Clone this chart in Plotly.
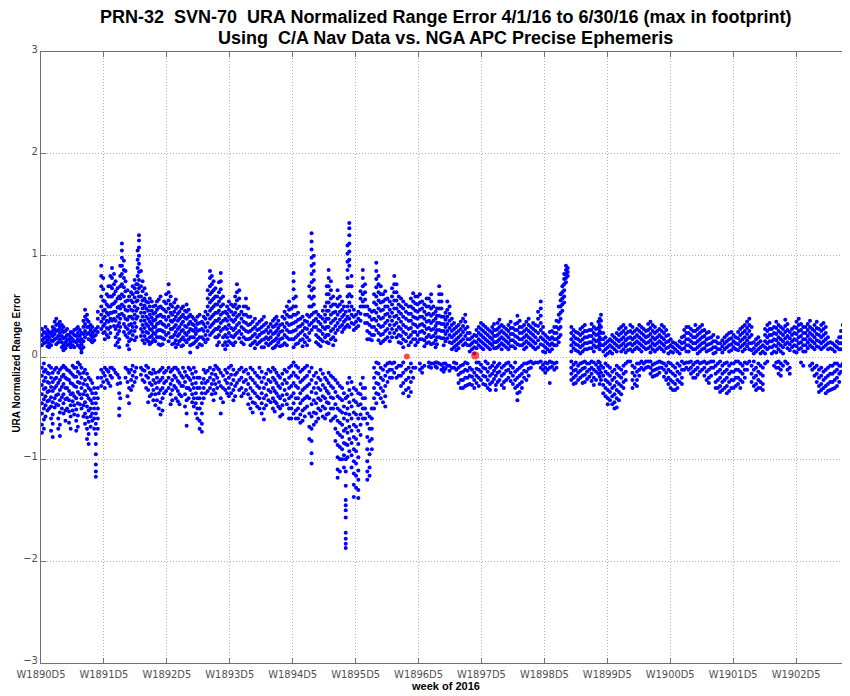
import plotly.graph_objects as go

# ---- data (x in days since W1890D5 = 4/1/16, y = URA normalized range error) ----
week_labels = ["W1890D5", "W1891D5", "W1892D5", "W1893D5", "W1894D5", "W1895D5", "W1896D5",
               "W1897D5", "W1898D5", "W1899D5", "W1900D5", "W1901D5", "W1902D5"]
week_days = [0, 7, 14, 21, 28, 35, 42, 49, 56, 63, 70, 77, 84]

# first set of vertical streaks (one streak = one time, several error samples)
streak_day = [
    0.1, 0.5, 0.9, 1.3, 1.7, 2.1, 2.5, 2.9, 3.3, 3.7, 4.1, 4.5, 4.9, 5.3, 5.7, 6.1,
    6.7, 7.1, 7.5, 7.9, 8.3, 8.7, 9.0, 9.4, 9.8, 10.2, 10.6, 10.9, 11.3, 11.7, 12.1, 12.5, 12.9,
    13.3, 13.7, 14.2, 14.6, 15.0, 15.4, 15.8, 16.2, 16.6, 17.0, 17.4, 17.9, 18.3, 18.8, 19.2, 19.6,
    20.0, 20.5, 20.9, 21.4, 21.8, 22.3, 22.8, 23.3, 23.8, 24.3, 24.8, 25.3, 25.8, 26.2, 26.6, 27.1, 27.6,
    28.1, 28.6, 29.1, 29.6, 30.1, 30.6, 31.1, 31.6, 32.0, 32.5, 33.0, 33.5, 33.9, 34.3, 34.8, 35.3,
    35.8, 36.3, 36.8, 37.3, 37.8, 38.3, 38.8, 39.3, 39.8, 40.3, 40.9, 41.4, 41.9, 42.4, 42.9,
    43.4, 43.9, 44.3, 44.8, 45.2, 45.7, 46.2, 46.7, 47.2, 47.7, 48.2, 48.7, 49.2, 49.7, 50.2, 50.6,
    51.0, 51.5, 52.0, 52.5, 53.0, 53.5, 54.0, 54.5, 55.0, 55.6, 56.1, 56.6, 57.1, 57.6, 58.0, 58.4,
    59.0, 59.5, 60.0, 60.5, 61.0, 61.5, 62.0, 62.3, 62.8, 63.3, 63.8, 64.3, 64.8, 65.3, 65.8, 66.3,
    66.8, 67.3, 67.8, 68.3, 68.8, 69.3, 69.8, 70.3, 70.8, 71.3, 71.8, 72.3, 72.8, 73.3, 73.8,
    74.3, 74.8, 75.3, 75.8, 76.3, 76.8, 77.3, 77.8, 78.3, 78.8, 79.3, 79.8, 80.3, 80.8, 81.3, 81.8,
    82.3, 82.8, 83.3, 83.8, 84.3, 84.8, 85.3, 85.8, 86.3, 86.8, 87.3, 87.8, 88.3, 88.8, 89.2, 89.6, 89.9,
]

streak_err = [
    # W1890
    [0.28, 0.22, 0.17, 0.12, -0.1, -0.18, -0.27, -0.36, -0.45, -0.55, -0.66, -0.74],
    [0.3, 0.24, 0.2, 0.15, -0.12, -0.2, -0.3, -0.38, -0.47, -0.58],
    [0.25, 0.2, 0.14, 0.1, -0.08, -0.16, -0.25, -0.33, -0.42, -0.5],
    [0.3, 0.26, 0.21, 0.16, -0.15, -0.24, -0.33, -0.44, -0.56, -0.65, -0.78],
    [0.38, 0.32, 0.26, 0.19, 0.13, -0.1, -0.2, -0.28, -0.37, -0.46],
    [0.35, 0.3, 0.24, 0.18, -0.12, -0.22, -0.32, -0.42, -0.54, -0.66, -0.77],
    [0.3, 0.25, 0.19, 0.12, 0.07, -0.08, -0.17, -0.26, -0.36, -0.45, -0.55],
    [0.28, 0.22, 0.17, 0.12, -0.12, -0.21, -0.3, -0.4, -0.5],
    [0.25, 0.2, 0.15, 0.1, -0.15, -0.25, -0.36, -0.47, -0.58, -0.7],
    [0.27, 0.22, 0.16, 0.1, -0.1, -0.19, -0.28, -0.38, -0.47, -0.56],
    [0.3, 0.24, 0.18, 0.12, -0.05, -0.14, -0.24, -0.34, -0.45, -0.57, -0.68],
    [0.24, 0.18, 0.13, 0.08, 0.05, -0.1, -0.2, -0.3, -0.4, -0.5],
    [0.47, 0.4, 0.33, 0.26, 0.2, -0.12, -0.22, -0.33, -0.44, -0.55, -0.65],
    [0.35, 0.3, 0.24, 0.18, -0.2, -0.3, -0.4, -0.52, -0.63, -0.75, -0.85],
    [0.3, 0.24, 0.2, 0.15, -0.25, -0.35, -0.45, -0.55, -0.62],
    [0.28, 0.22, -0.35, -0.45, -0.55, -0.65, -0.75, -0.85, -0.95, -1.05, -1.12, -1.17],
    # W1891
    [0.9, 0.8, 0.7, 0.6, 0.5, 0.42, 0.35, 0.28, -0.12, -0.2, -0.28],
    [0.55, 0.47, 0.4, 0.33, 0.25, 0.18, -0.1, -0.18, -0.3],
    [0.7, 0.6, 0.5, 0.42, 0.35, 0.28, 0.2, -0.14, -0.25],
    [0.88, 0.78, 0.68, 0.6, 0.52, 0.44, 0.36, -0.1, -0.2],
    [0.75, 0.65, 0.55, 0.45, 0.36, 0.28, 0.2, 0.12, -0.15],
    [0.6, 0.5, 0.42, 0.34, 0.26, 0.18, 0.1, -0.2, -0.35, -0.5, -0.57],
    [1.12, 1.05, 0.98, 0.9, 0.82, 0.72, 0.62, 0.52, 0.43],
    [0.85, 0.75, 0.65, 0.55, 0.47, 0.38, 0.3, 0.22, -0.1, -0.2],
    [0.6, 0.5, 0.4, 0.32, 0.24, 0.16, 0.08, -0.15, -0.3, -0.45],
    [0.7, 0.62, 0.54, 0.46, 0.38, 0.3, 0.22, -0.08, -0.18, -0.28],
    [0.72, 0.64, 0.55, 0.46, 0.38, 0.3, 0.2, -0.1, -0.2],
    [1.2, 1.15, 1.08, 1.0, 0.92, 0.84, 0.76, 0.68, 0.6],
    [0.75, 0.65, 0.56, 0.48, 0.4, 0.32, 0.25, 0.17, -0.12, -0.22],
    [0.62, 0.55, 0.48, 0.4, 0.33, 0.25, 0.18, -0.08, -0.18, -0.3],
    [0.58, 0.5, 0.42, 0.35, 0.28, 0.2, 0.13, -0.15, -0.25, -0.38],
    [0.5, 0.43, 0.36, 0.3, 0.24, 0.18, -0.12, -0.22, -0.32, -0.42],
    [0.55, 0.47, 0.4, 0.33, 0.26, 0.2, -0.2, -0.3, -0.42],
    # W1892 - W1893
    [0.6, 0.5, 0.42, 0.35, 0.27, 0.2, 0.12, -0.12, -0.22, -0.32, -0.44, -0.56],
    [0.55, 0.47, 0.4, 0.32, 0.25, 0.18, -0.15, -0.25, -0.35],
    [0.72, 0.64, 0.56, 0.48, 0.4, 0.32, 0.24, 0.16, -0.1, -0.2, -0.3],
    [0.5, 0.42, 0.35, 0.28, 0.2, 0.13, -0.12, -0.22, -0.32, -0.42],
    [0.57, 0.48, 0.4, 0.32, 0.25, 0.17, 0.1, -0.1, -0.2, -0.3, -0.4],
    [0.45, 0.38, 0.3, 0.23, 0.16, -0.15, -0.25, -0.36, -0.46],
    [0.5, 0.42, 0.35, 0.27, 0.2, 0.12, -0.1, -0.2, -0.28],
    [0.52, 0.45, 0.38, 0.3, 0.22, 0.15, -0.18, -0.3, -0.42, -0.55, -0.67],
    [0.42, 0.35, 0.28, 0.2, 0.12, 0.05, -0.12, -0.22, -0.32],
    [0.38, 0.32, 0.26, 0.2, 0.14, -0.1, -0.2, -0.3, -0.4, -0.48],
    [0.4, 0.33, 0.26, 0.18, 0.1, -0.2, -0.3, -0.4, -0.5, -0.6],
    [0.35, 0.28, 0.2, 0.12, -0.25, -0.35, -0.45, -0.55, -0.65, -0.73],
    [0.45, 0.38, 0.3, 0.22, 0.15, -0.15, -0.25, -0.35],
    [0.85, 0.78, 0.7, 0.62, 0.54, 0.46, 0.38, 0.3, 0.22, -0.1, -0.2, -0.3],
    [0.75, 0.66, 0.58, 0.5, 0.42, 0.34, 0.26, -0.12, -0.22, -0.32, -0.42],
    [0.6, 0.52, 0.44, 0.36, 0.28, 0.2, 0.12, -0.1, -0.2, -0.3],
    [0.83, 0.75, 0.67, 0.58, 0.5, 0.42, 0.34, 0.26, -0.15, -0.28, -0.4, -0.55],
    [0.45, 0.38, 0.3, 0.22, 0.15, 0.08, -0.12, -0.22, -0.32],
    [0.55, 0.47, 0.4, 0.32, 0.24, 0.16, -0.1, -0.2, -0.3, -0.38],
    [0.5, 0.42, 0.35, 0.27, 0.2, 0.12, -0.12, -0.22, -0.32, -0.42],
    [0.72, 0.64, 0.56, 0.48, 0.4, 0.32, 0.24, -0.15, -0.25],
    [0.45, 0.38, 0.3, 0.23, 0.15, -0.1, -0.2, -0.3, -0.38],
    [0.58, 0.5, 0.42, 0.34, 0.26, 0.18, -0.12, -0.22, -0.32],
    [0.4, 0.33, 0.26, 0.19, 0.12, -0.1, -0.2, -0.3, -0.4, -0.5],
    [0.38, 0.3, 0.23, 0.16, 0.09, -0.15, -0.25, -0.35, -0.45],
    [0.35, 0.28, 0.22, 0.15, -0.1, -0.2, -0.3, -0.4, -0.5],
    [0.4, 0.32, 0.25, 0.18, 0.1, -0.2, -0.3, -0.4, -0.5, -0.61],
    [0.3, 0.24, 0.18, 0.12, -0.12, -0.22, -0.32, -0.42],
    [0.36, 0.3, 0.23, 0.16, 0.09, -0.1, -0.2, -0.3, -0.4, -0.5],
    [0.4, 0.33, 0.26, 0.19, 0.12, -0.15, -0.25, -0.35, -0.45],
    [0.32, 0.25, 0.18, 0.11, -0.2, -0.3, -0.4, -0.5, -0.58],
    [0.45, 0.38, 0.3, 0.22, 0.14, -0.12, -0.22, -0.32, -0.42],
    [0.55, 0.47, 0.4, 0.32, 0.25, 0.18, -0.1, -0.2, -0.3, -0.4, -0.5, -0.6],
    # W1894 - W1895
    [0.83, 0.75, 0.67, 0.58, 0.5, 0.42, 0.34, 0.26, 0.18, 0.1, -0.05, -0.15, -0.25, -0.35, -0.45, -0.55],
    [0.44, 0.37, 0.3, 0.22, 0.14, -0.1, -0.2, -0.3, -0.4, -0.5, -0.6],
    [0.4, 0.33, 0.26, 0.18, 0.11, -0.12, -0.22, -0.32, -0.42, -0.52, -0.62],
    [0.42, 0.35, 0.28, 0.2, 0.12, -0.08, -0.18, -0.28, -0.38, -0.48],
    [1.22, 1.14, 1.06, 0.98, 0.9, 0.82, 0.74, 0.66, 0.58, 0.5, 0.42, 0.34, 0.27,
     -0.1, -0.22, -0.34, -0.46, -0.58, -0.7, -0.82, -0.94, -1.04],
    [0.45, 0.38, 0.3, 0.22, 0.15, -0.15, -0.25, -0.35, -0.45, -0.55, -0.63],
    [0.4, 0.33, 0.26, 0.18, 0.11, -0.12, -0.22, -0.32, -0.42, -0.52],
    [0.5, 0.42, 0.35, 0.28, 0.2, -0.2, -0.3, -0.4, -0.5, -0.6],
    [0.86, 0.78, 0.7, 0.62, 0.54, 0.46, 0.38, 0.3, 0.22, 0.14, -0.15, -0.25, -0.35, -0.45, -0.55],
    [0.6, 0.52, 0.44, 0.36, 0.28, 0.2, 0.12, -0.2, -0.3, -0.4, -0.5, -0.6],
    [0.66, 0.58, 0.5, 0.42, 0.34, 0.27, -0.25, -0.38, -0.5, -0.62, -0.74, -0.86, -0.98, -1.1, -1.18],
    [0.55, 0.47, 0.4, 0.32, 0.25, -0.3, -0.42, -0.54, -0.66, -0.78, -0.9, -1.0],
    [0.45, 0.37, 0.3, -0.4, -0.55, -0.7, -0.85, -1.0, -1.12, -1.26, -1.4, -1.45, -1.5, -1.57,
     -1.72, -1.78, -1.83, -1.87],
    [1.32, 1.27, 1.2, 1.12, 1.04, 0.96, 0.9, 0.7, 0.62, 0.54, 0.46, 0.38, 0.3,
     -0.2, -0.32, -0.44, -0.56, -0.68, -0.8, -0.92],
    [0.47, 0.4, 0.33, 0.27, -0.3, -0.42, -0.54, -0.66, -0.78, -0.9, -1.02, -1.14, -1.25, -1.37],
    [0.45, 0.38, 0.31, -0.35, -0.47, -0.6, -0.72, -0.85, -0.98, -1.11, -1.2, -1.3, -1.38],
    [0.86, 0.78, 0.7, 0.62, 0.55, 0.5, -0.2, -0.3, -0.4, -0.5, -0.6],
    [0.5, 0.42, 0.34, 0.26, 0.18, -0.55, -0.65, -0.78, -0.9, -1.02, -1.12, -1.2],
    [0.45, 0.37, 0.3, 0.22, 0.17, -0.5, -0.6, -0.7, -0.8, -0.9],
    [0.93, 0.85, 0.77, 0.69, 0.6, 0.52, 0.44, 0.36, 0.27, -0.05, -0.15, -0.25, -0.35, -0.45],
    [0.7, 0.62, 0.54, 0.46, 0.38, 0.3, 0.22, 0.14, -0.1, -0.2, -0.3, -0.4],
    [0.65, 0.57, 0.5, 0.42, 0.34, 0.26, 0.18, -0.08, -0.18, -0.28, -0.38, -0.48],
    [0.55, 0.47, 0.4, 0.32, 0.24, 0.16, -0.05, -0.12, -0.2],
    [0.8, 0.72, 0.64, 0.56, 0.48, 0.4, 0.32, 0.24, -0.05, -0.15],
    [0.6, 0.52, 0.45, 0.38, 0.3, 0.22, 0.15, -0.08, -0.18],
    [0.55, 0.48, 0.4, 0.32, 0.25, 0.18, 0.1, -0.05, -0.15, -0.25, -0.35],
    [0.5, 0.43, 0.36, 0.28, 0.2, 0.12, -0.1, -0.2, -0.3, -0.38],
    [0.63, 0.55, 0.48, 0.4, 0.33, 0.25, 0.18, -0.1, -0.2],
    [0.6, 0.52, 0.45, 0.38, 0.3, 0.22, 0.15],
    [0.55, 0.48, 0.4, 0.33, 0.26, 0.18, -0.1, -0.15],
    [0.58, 0.5, 0.42, 0.35, 0.28, 0.2, 0.14],
    # W1896 - W1897
    [0.62, 0.55, 0.48, 0.41, 0.34, 0.27, 0.2, 0.13, -0.06, -0.1],
    [0.45, 0.38, 0.31, 0.24, 0.17, 0.1, -0.05, -0.09],
    [0.7, 0.62, 0.55, 0.48, 0.41, 0.34, 0.27, 0.2, -0.06],
    [0.4, 0.33, 0.26, 0.19, 0.12, -0.06, -0.1, -0.14],
    [0.55, 0.47, 0.4, 0.33, 0.26, 0.19, -0.08],
    [0.38, 0.32, 0.26, 0.2, 0.14, 0.08, -0.1],
    [0.3, 0.24, 0.18, 0.12, 0.07, -0.06, -0.12],
    [0.35, 0.28, 0.22, 0.16, -0.08, -0.15, -0.22, -0.3],
    [0.42, 0.35, 0.28, 0.21, 0.14, -0.05, -0.12, -0.2, -0.28],
    [0.24, 0.18, 0.12, 0.06, -0.1, -0.18, -0.26],
    [0.22, 0.16, 0.1, 0.04, -0.15, -0.22, -0.3],
    [0.3, 0.24, 0.18, 0.12, -0.05, -0.12, -0.2, -0.28],
    [0.32, 0.26, 0.2, 0.14, 0.08, -0.1, -0.18, -0.26],
    [0.28, 0.22, 0.16, 0.1, -0.06, -0.14, -0.22, -0.3],
    [0.3, 0.24, 0.18, 0.12, -0.08, -0.16, -0.24],
    [0.27, 0.21, 0.15, 0.09, -0.1, -0.18, -0.27, -0.32],
    [0.37, 0.3, 0.24, 0.18, 0.12, -0.06, -0.14, -0.22],
    [0.3, 0.24, 0.18, 0.12, -0.08, -0.16, -0.24, -0.3],
    [0.32, 0.26, 0.2, 0.14, 0.08, -0.05, -0.12, -0.2],
    [0.29, 0.23, 0.17, 0.11, -0.1, -0.18, -0.26],
    [0.41, 0.34, 0.27, 0.2, 0.13, -0.12, -0.2, -0.28, -0.35, -0.42],
    [0.3, 0.24, 0.18, 0.12, -0.08, -0.16, -0.24, -0.3],
    [0.35, 0.28, 0.22, 0.16, 0.1, -0.06, -0.14, -0.22],
    [0.3, 0.24, 0.18, 0.12, -0.04, -0.1],
    [0.32, 0.26, 0.2, 0.14, 0.08, -0.05],
    [0.55, 0.48, 0.41, 0.34, 0.27, 0.2, 0.13, -0.04, -0.1],
    [0.22, 0.16, 0.1, 0.05, -0.05, -0.1, -0.15],
    [0.25, 0.18, 0.12, 0.06, -0.04, -0.1, -0.25],
    [0.3, 0.24, 0.18, 0.12, -0.06, -0.12],
    [0.5, 0.42, 0.35, 0.28, 0.2, 0.15],
    [0.7, 0.64, 0.58, 0.52, 0.46],
    [0.9, 0.86, 0.82, 0.78, 0.74],
    # W1898 - W1900
    [0.3, 0.24, 0.18, 0.12, 0.06, -0.04, -0.1, -0.16, -0.22],
    [0.25, 0.19, 0.13, 0.07, -0.05, -0.12, -0.18, -0.25],
    [0.28, 0.22, 0.16, 0.1, 0.04, -0.06, -0.13, -0.2],
    [0.32, 0.26, 0.2, 0.14, 0.08, -0.04, -0.1, -0.17, -0.24],
    [0.27, 0.21, 0.15, 0.09, -0.06, -0.12, -0.19],
    [0.3, 0.24, 0.18, 0.12, 0.06, -0.05, -0.12, -0.2, -0.27],
    [0.35, 0.29, 0.23, 0.17, 0.11, -0.04, -0.1, -0.16],
    [0.42, 0.36, 0.3, 0.24, 0.18, 0.12, -0.08, -0.15, -0.22],
    [0.2, 0.14, 0.08, 0.02, -0.06, -0.14, -0.22, -0.3, -0.38],
    [0.18, 0.12, 0.06, -0.1, -0.18, -0.26, -0.34, -0.42],
    [0.2, 0.14, 0.08, -0.12, -0.2, -0.28, -0.36, -0.44, -0.5],
    [0.28, 0.22, 0.16, 0.1, -0.1, -0.18, -0.26, -0.34, -0.42],
    [0.32, 0.26, 0.2, 0.14, 0.08, -0.08, -0.16, -0.24, -0.3],
    [0.25, 0.19, 0.13, 0.07, -0.04],
    [0.3, 0.24, 0.18, 0.12, 0.06, -0.08, -0.15, -0.22, -0.3],
    [0.28, 0.22, 0.16, 0.1, -0.06, -0.14, -0.22, -0.28],
    [0.3, 0.24, 0.18, 0.12, 0.06, -0.04, -0.1],
    [0.26, 0.2, 0.14, 0.08, -0.04, -0.1],
    [0.35, 0.29, 0.23, 0.17, 0.11, 0.05, -0.04, -0.1, -0.16],
    [0.3, 0.24, 0.18, 0.12, 0.06, -0.06, -0.12, -0.18],
    [0.28, 0.22, 0.16, 0.1, -0.04, -0.1, -0.15],
    [0.3, 0.24, 0.18, 0.12, 0.06, -0.06, -0.12, -0.19],
    [0.22, 0.16, 0.1, 0.04, -0.05, -0.12, -0.2, -0.26],
    [0.15, 0.1, 0.05, -0.08, -0.16, -0.24, -0.32],
    [0.12, 0.06, -0.06, -0.14, -0.22, -0.3],
    [0.2, 0.14, 0.08, -0.04, -0.12, -0.2, -0.26],
    [0.3, 0.24, 0.18, 0.12, 0.06, -0.05, -0.1],
    [0.28, 0.22, 0.16, 0.1, -0.04, -0.1, -0.16],
    [0.32, 0.26, 0.2, 0.14, 0.08, -0.05, -0.12, -0.2],
    [0.3, 0.24, 0.18, 0.12, 0.06, -0.06, -0.14],
    [0.27, 0.21, 0.15, 0.09, -0.04, -0.1, -0.18],
    # W1901 - W1902
    [0.25, 0.19, 0.13, 0.07, -0.05, -0.12, -0.2, -0.25],
    [0.22, 0.16, 0.1, 0.04, -0.04, -0.1],
    [0.2, 0.14, 0.08, -0.06, -0.14, -0.22, -0.3],
    [0.17, 0.11, 0.05, -0.08, -0.16, -0.24, -0.32],
    [0.22, 0.16, 0.1, -0.05, -0.12, -0.2, -0.28, -0.35],
    [0.25, 0.19, 0.13, 0.07, -0.06, -0.14, -0.22, -0.3],
    [0.2, 0.14, 0.08, -0.04, -0.12, -0.2, -0.28],
    [0.28, 0.22, 0.16, 0.1, -0.06, -0.14, -0.22, -0.3],
    [0.32, 0.26, 0.2, 0.14, 0.08, -0.05, -0.12, -0.2],
    [0.38, 0.32, 0.26, 0.2, 0.14, 0.08, -0.04],
    [0.15, 0.09, 0.04, -0.04, -0.12, -0.2, -0.28],
    [0.2, 0.14, 0.08, -0.06, -0.14, -0.22, -0.3],
    [0.12, 0.06, -0.1, -0.18, -0.26, -0.32],
    [0.32, 0.26, 0.2, 0.14, 0.08, -0.04],
    [0.28, 0.22, 0.16, 0.1, 0.04],
    [0.35, 0.29, 0.23, 0.17, 0.11, 0.05, -0.05, -0.1],
    [0.3, 0.24, 0.18, 0.12, 0.06, -0.06, -0.12, -0.18],
    [0.37, 0.31, 0.25, 0.19, 0.13, -0.04],
    [0.25, 0.19, 0.13, 0.07, -0.1, -0.16],
    [0.3, 0.24, 0.18, 0.12, 0.06],
    [0.38, 0.32, 0.26, 0.2, 0.14, 0.08],
    [0.3, 0.24, 0.18, 0.12, 0.06, -0.08],
    [0.33, 0.27, 0.21, 0.15, 0.09],
    [0.28, 0.22, 0.16, 0.1, -0.06, -0.12],
    [0.35, 0.29, 0.23, 0.17, 0.11, -0.08, -0.16, -0.24],
    [0.32, 0.26, 0.2, 0.14, 0.08, -0.1, -0.18, -0.26, -0.32],
    [0.3, 0.24, 0.18, 0.12, -0.12, -0.2, -0.28, -0.35],
    [0.15, 0.09, -0.08, -0.16, -0.24, -0.32],
    [0.12, 0.06, -0.06, -0.14, -0.22, -0.3],
    [0.2, 0.14, 0.08, -0.08, -0.16, -0.24],
    [0.32, 0.26, 0.2, 0.14, -0.06],
    [0.45, 0.4, 0.35, 0.3],
    [0.53, 0.48, 0.43, 0.38],
]

# second set of streaks, between the first ones
streak_day_b = [
    0.32, 0.72, 1.12, 1.52, 1.92, 2.32, 2.72, 3.12, 3.52, 3.92, 4.32, 4.72, 5.12, 5.52, 5.92, 6.32,
    6.92, 7.32, 7.72, 8.12, 8.52, 8.82, 9.22, 9.62, 10.02, 10.42, 10.75, 11.12, 11.52, 11.92, 12.32, 12.72, 13.1,
    13.52, 13.92, 14.42, 14.82, 15.22, 15.62, 16.02, 16.42, 16.82, 17.22, 17.65, 18.1, 18.55, 19.0, 19.4, 19.8,
    20.25, 20.7, 21.15, 21.6, 22.05, 22.55, 23.05, 23.55, 24.05, 24.55, 25.05, 25.55, 26.0, 26.4, 26.85, 27.35, 27.85,
    28.35, 28.85, 29.35, 29.85, 30.35, 30.85, 31.35, 31.8, 32.25, 32.75, 33.25, 33.7, 34.1, 34.55, 35.05,
    35.55, 36.05, 36.55, 37.05, 37.55, 38.05, 38.55, 39.05, 39.55, 40.05, 40.6, 41.15, 41.65, 42.15, 42.65,
    43.15, 43.65, 44.05, 44.55, 45.0, 45.45, 45.95, 46.45, 46.95, 47.45, 47.95, 48.45, 48.95, 49.45, 49.95,
    50.4, 50.8, 51.25, 51.75, 52.25, 52.75, 53.25, 53.75, 54.25, 54.75, 55.3, 55.85, 56.35, 56.85, 57.35,
    57.8, 58.2, 58.6,
    59.25, 59.75, 60.25, 60.75, 61.25, 61.75, 62.15, 62.55, 63.05, 63.55, 64.05, 64.55, 65.05, 65.55,
    66.05, 66.55, 67.05, 67.55, 68.05, 68.55, 69.05, 69.55, 70.05, 70.55, 71.05, 71.55, 72.05, 72.55,
    73.05, 73.55, 74.05,
    74.55, 75.05, 75.55, 76.05, 76.55, 77.05, 77.55, 78.05, 78.55, 79.05, 79.55, 80.05, 80.55, 81.05,
    81.55, 82.05, 82.55, 83.05, 83.55, 84.05, 84.55, 85.05, 85.55, 86.05, 86.55, 87.05, 87.55, 88.05,
    88.55, 89.0, 89.4, 89.75,
]

streak_err_b = [
    # W1890
    [0.25, 0.19, 0.14, -0.06, -0.14, -0.23, -0.31, -0.41, -0.5, -0.61, -0.7],
    [0.27, 0.22, 0.17, 0.11, -0.15, -0.24, -0.34, -0.43, -0.52],
    [0.23, 0.17, 0.12, -0.1, -0.2, -0.29, -0.39, -0.48, -0.6, -0.72],
    [0.35, 0.28, 0.23, 0.18, -0.12, -0.21, -0.3, -0.4, -0.49],
    [0.33, 0.27, 0.21, 0.15, -0.15, -0.25, -0.36, -0.47, -0.6, -0.7],
    [0.32, 0.27, 0.21, 0.15, 0.1, -0.1, -0.19, -0.29, -0.39, -0.5],
    [0.26, 0.2, 0.15, 0.09, -0.1, -0.2, -0.3, -0.41, -0.52, -0.62],
    [0.22, 0.18, 0.13, -0.13, -0.22, -0.33, -0.42, -0.53, -0.64],
    [0.24, 0.18, 0.12, -0.08, -0.17, -0.26, -0.35, -0.43, -0.52],
    [0.28, 0.21, 0.15, -0.1, -0.19, -0.29, -0.4, -0.51, -0.62, -0.72],
    [0.27, 0.21, 0.16, 0.1, -0.07, -0.16, -0.25, -0.36, -0.46],
    [0.36, 0.3, 0.23, 0.16, 0.1, -0.15, -0.26, -0.36, -0.47, -0.58],
    [0.42, 0.37, 0.3, 0.23, -0.16, -0.27, -0.37, -0.48, -0.59, -0.7, -0.8],
    [0.32, 0.27, 0.22, 0.17, -0.22, -0.32, -0.42, -0.5, -0.58, -0.68],
    [0.26, 0.21, 0.17, -0.3, -0.4, -0.5, -0.6, -0.7],
    [0.45, 0.38, 0.3, 0.25, -0.2, -0.3, -0.4, -0.5, -0.6, -0.7],
    # W1891
    [0.78, 0.67, 0.56, 0.46, 0.38, 0.31, 0.24, -0.15, -0.24],
    [0.62, 0.52, 0.44, 0.36, 0.29, 0.22, -0.12, -0.22],
    [0.8, 0.7, 0.6, 0.5, 0.44, 0.38, 0.3, 0.24, -0.1, -0.18, -0.28],
    [0.82, 0.72, 0.62, 0.53, 0.45, 0.38, 0.31, -0.12],
    [0.68, 0.58, 0.49, 0.4, 0.31, 0.23, 0.15, -0.17, -0.26],
    [0.9, 0.8, 0.7, 0.58, 0.48, 0.38, 0.3, -0.25, -0.4],
    [0.95, 0.86, 0.78, 0.69, 0.6, 0.5, 0.41, 0.33, 0.25],
    [0.66, 0.56, 0.46, 0.37, 0.28, 0.2, 0.12, -0.12, -0.24, -0.38],
    [0.64, 0.56, 0.47, 0.4, 0.33, 0.26, 0.18, -0.12, -0.22, -0.32],
    [0.76, 0.68, 0.59, 0.5, 0.42, 0.34, 0.26, 0.17, -0.14, -0.24],
    [1.05, 0.96, 0.88, 0.8, 0.72, 0.64, 0.56, 0.48, 0.4],
    [0.85, 0.7, 0.6, 0.52, 0.44, 0.36, 0.28, 0.21, -0.1, -0.17],
    [0.68, 0.58, 0.51, 0.44, 0.36, 0.29, 0.21, 0.14, -0.13, -0.24],
    [0.54, 0.46, 0.38, 0.31, 0.24, 0.16, -0.1, -0.2, -0.32, -0.44],
    [0.55, 0.46, 0.39, 0.33, 0.27, 0.21, 0.15, -0.16, -0.27, -0.36],
    [0.51, 0.44, 0.37, 0.3, 0.23, 0.16, -0.15, -0.25, -0.36, -0.47],
    [0.57, 0.49, 0.41, 0.34, 0.27, 0.2, 0.13, -0.14, -0.24, -0.35, -0.5],
    # W1892 - W1893
    [0.48, 0.4, 0.33, 0.26, 0.19, 0.13, -0.1, -0.2, -0.3, -0.4, -0.52],
    [0.62, 0.53, 0.45, 0.37, 0.3, 0.22, -0.13, -0.23, -0.33],
    [0.6, 0.52, 0.44, 0.36, 0.28, 0.2, -0.14, -0.26, -0.36, -0.46],
    [0.54, 0.45, 0.37, 0.3, 0.22, 0.14, -0.1, -0.18, -0.28],
    [0.5, 0.43, 0.36, 0.28, 0.21, 0.13, -0.12, -0.23, -0.33, -0.43],
    [0.48, 0.4, 0.33, 0.26, 0.18, 0.11, -0.18, -0.28, -0.38],
    [0.46, 0.39, 0.31, 0.24, 0.17, -0.14, -0.24, -0.36, -0.48],
    [0.47, 0.4, 0.33, 0.25, 0.18, -0.1, -0.2, -0.3, -0.4],
    [0.4, 0.33, 0.27, 0.2, 0.13, -0.16, -0.26, -0.36, -0.44],
    [0.36, 0.29, 0.23, 0.16, -0.14, -0.25, -0.35, -0.45, -0.55],
    [0.42, 0.34, 0.27, 0.2, 0.13, -0.2, -0.3, -0.4, -0.5, -0.62, -0.7],
    [0.4, 0.33, 0.26, 0.18, -0.12, -0.21, -0.3, -0.4],
    [0.66, 0.58, 0.5, 0.42, 0.34, 0.26, 0.18, -0.13, -0.23, -0.33],
    [0.8, 0.72, 0.64, 0.56, 0.48, 0.4, 0.32, 0.24, -0.16, -0.26, -0.36],
    [0.68, 0.6, 0.52, 0.44, 0.36, 0.28, 0.2, -0.08, -0.17, -0.26, -0.35],
    [0.74, 0.64, 0.55, 0.46, 0.38, 0.3, 0.22, 0.15, -0.12, -0.24],
    [0.6, 0.52, 0.44, 0.36, 0.28, 0.2, 0.12, -0.18, -0.3, -0.44],
    [0.5, 0.43, 0.36, 0.28, 0.2, 0.12, -0.15, -0.25, -0.35],
    [0.52, 0.45, 0.37, 0.29, 0.21, 0.14, -0.08, -0.17, -0.26, -0.35],
    [0.6, 0.52, 0.44, 0.37, 0.29, 0.22, 0.15, -0.17, -0.28, -0.38],
    [0.66, 0.58, 0.5, 0.42, 0.34, 0.26, 0.19, -0.12, -0.22, -0.32],
    [0.5, 0.42, 0.35, 0.28, 0.2, 0.13, -0.14, -0.24, -0.35],
    [0.48, 0.4, 0.32, 0.25, 0.18, -0.16, -0.26, -0.36, -0.46],
    [0.35, 0.28, 0.21, 0.14, -0.12, -0.22, -0.33, -0.44, -0.54],
    [0.33, 0.27, 0.2, 0.13, -0.18, -0.28, -0.38, -0.48],
    [0.37, 0.3, 0.24, 0.17, 0.1, -0.14, -0.24, -0.35, -0.45, -0.55],
    [0.34, 0.27, 0.2, 0.14, -0.16, -0.26, -0.37, -0.47],
    [0.33, 0.26, 0.2, 0.14, -0.14, -0.24, -0.34, -0.44],
    [0.38, 0.31, 0.24, 0.17, 0.1, -0.12, -0.22, -0.33, -0.43, -0.53],
    [0.36, 0.29, 0.22, 0.15, -0.18, -0.28, -0.38, -0.48],
    [0.4, 0.33, 0.26, 0.19, 0.12, -0.16, -0.26, -0.37, -0.47, -0.56],
    [0.5, 0.42, 0.34, 0.27, 0.2, 0.12, -0.14, -0.25, -0.36, -0.46],
    [0.48, 0.4, 0.33, 0.25, 0.18, -0.08, -0.18, -0.28, -0.38, -0.5, -0.6],
    # W1894 - W1895
    [0.6, 0.5, 0.42, 0.35, 0.27, 0.2, 0.13, -0.08, -0.18, -0.28, -0.4, -0.52, -0.6],
    [0.38, 0.31, 0.24, 0.17, -0.14, -0.24, -0.35, -0.45, -0.56, -0.64],
    [0.36, 0.29, 0.22, 0.15, -0.1, -0.2, -0.3, -0.4, -0.5, -0.58],
    [0.7, 0.6, 0.5, 0.4, 0.32, 0.24, 0.17, -0.14, -0.26, -0.4, -0.55, -0.68, -0.8],
    [1.0, 0.92, 0.85, 0.76, 0.68, 0.6, 0.52, 0.44, 0.36, 0.3, -0.18, -0.3, -0.42, -0.54, -0.66],
    [0.42, 0.35, 0.27, 0.2, 0.13, -0.2, -0.3, -0.4, -0.5, -0.6],
    [0.46, 0.38, 0.3, 0.23, 0.16, -0.16, -0.27, -0.38, -0.48, -0.58],
    [0.7, 0.62, 0.54, 0.46, 0.38, 0.3, 0.22, 0.15, -0.22, -0.33, -0.44, -0.56],
    [0.75, 0.66, 0.58, 0.5, 0.42, 0.34, 0.26, 0.18, -0.18, -0.28, -0.39, -0.5, -0.62],
    [0.52, 0.45, 0.38, 0.31, 0.24, 0.17, -0.22, -0.34, -0.46, -0.58, -0.7, -0.82],
    [0.6, 0.52, 0.45, 0.37, 0.3, -0.28, -0.4, -0.52, -0.64, -0.76, -0.88, -1.0, -1.12],
    [0.5, 0.42, 0.35, 0.28, -0.35, -0.48, -0.6, -0.72, -0.84, -0.96, -1.08],
    [1.1, 1.02, 0.94, 0.86, 0.78, 0.7, 0.6, 0.5, 0.4, 0.32, -0.25, -0.38, -0.5, -0.62, -0.74, -0.86, -0.98],
    [0.8, 0.7, 0.6, 0.5, 0.42, 0.34, -0.24, -0.36, -0.48, -0.6, -0.72, -0.84, -0.96, -1.08],
    [0.42, 0.35, 0.29, -0.32, -0.44, -0.56, -0.68, -0.8, -0.92, -1.04, -1.16, -1.28],
    [0.65, 0.58, 0.5, 0.43, 0.36, -0.26, -0.36, -0.46, -0.56, -0.66, -0.76],
    [0.72, 0.64, 0.57, 0.5, 0.42, 0.34, -0.3, -0.4, -0.5, -0.6],
    [0.47, 0.4, 0.32, 0.24, 0.18, -0.58, -0.7, -0.82, -0.95, -1.08, -1.16],
    [0.62, 0.54, 0.46, 0.38, 0.3, 0.22, -0.1, -0.2, -0.3, -0.4, -0.5],
    [0.8, 0.72, 0.64, 0.56, 0.48, 0.4, 0.32, 0.24, 0.17, -0.06, -0.16, -0.26, -0.36],
    [0.62, 0.55, 0.47, 0.39, 0.31, 0.23, 0.16, -0.12, -0.22, -0.33, -0.44],
    [0.58, 0.5, 0.43, 0.36, 0.28, 0.2, -0.06, -0.14, -0.24],
    [0.68, 0.6, 0.52, 0.44, 0.36, 0.28, 0.2, -0.06, -0.12, -0.2],
    [0.72, 0.64, 0.56, 0.48, 0.41, 0.34, 0.27, 0.2, -0.1, -0.2],
    [0.58, 0.5, 0.43, 0.35, 0.28, 0.21, 0.14, -0.08, -0.18, -0.28],
    [0.52, 0.45, 0.38, 0.3, 0.23, 0.16, -0.12, -0.22, -0.32],
    [0.58, 0.5, 0.43, 0.36, 0.29, 0.22, 0.15, -0.06, -0.14, -0.24, -0.34],
    [0.6, 0.53, 0.46, 0.39, 0.32, 0.25, 0.18, 0.12, -0.1],
    [0.62, 0.54, 0.47, 0.4, 0.32, 0.25, 0.18, -0.06, -0.12],
    [0.52, 0.45, 0.38, 0.31, 0.24, 0.17, 0.11, -0.08],
    # W1896 - W1897
    [0.58, 0.5, 0.43, 0.36, 0.29, 0.22, 0.15, -0.05, -0.09],
    [0.5, 0.43, 0.36, 0.28, 0.21, 0.14, -0.06],
    [0.48, 0.41, 0.34, 0.27, 0.2, 0.13, -0.05, -0.1],
    [0.62, 0.55, 0.48, 0.4, 0.33, 0.26, 0.19, -0.07, -0.12],
    [0.44, 0.37, 0.3, 0.23, 0.16, -0.06, -0.11],
    [0.5, 0.43, 0.36, 0.29, 0.22, 0.15, -0.08, -0.13],
    [0.34, 0.28, 0.22, 0.16, 0.1, -0.05, -0.1],
    [0.32, 0.26, 0.2, 0.14, 0.09, -0.1, -0.17, -0.25],
    [0.38, 0.31, 0.25, 0.18, 0.12, -0.07, -0.14, -0.22, -0.3],
    [0.3, 0.24, 0.18, 0.12, -0.06, -0.13, -0.2, -0.27],
    [0.2, 0.14, 0.08, -0.12, -0.19, -0.27],
    [0.27, 0.21, 0.15, 0.09, -0.05, -0.11, -0.18, -0.25],
    [0.34, 0.28, 0.22, 0.16, 0.1, -0.07, -0.14, -0.22],
    [0.3, 0.24, 0.18, 0.12, -0.04, -0.11, -0.19, -0.27],
    [0.26, 0.2, 0.14, 0.08, -0.1, -0.18, -0.26, -0.32],
    [0.33, 0.27, 0.21, 0.15, 0.09, -0.05, -0.13, -0.21],
    [0.34, 0.28, 0.22, 0.16, 0.1, -0.08, -0.15, -0.24],
    [0.32, 0.26, 0.2, 0.14, 0.08, -0.1, -0.18, -0.27],
    [0.28, 0.22, 0.16, 0.1, -0.06, -0.13, -0.22],
    [0.35, 0.29, 0.23, 0.17, 0.11, -0.08, -0.15, -0.23],
    [0.33, 0.27, 0.21, 0.15, 0.09, -0.05, -0.14, -0.22, -0.3],
    [0.36, 0.3, 0.24, 0.18, 0.12, -0.1, -0.18, -0.26, -0.34],
    [0.32, 0.26, 0.2, 0.14, 0.08, -0.06, -0.13, -0.2],
    [0.38, 0.32, 0.26, 0.2, 0.14, -0.05, -0.11, -0.18],
    [0.34, 0.28, 0.22, 0.16, 0.1, -0.06],
    [0.45, 0.38, 0.31, 0.24, 0.17, 0.1, -0.05],
    [0.3, 0.24, 0.18, 0.12, 0.06, -0.07, -0.12],
    [0.2, 0.14, 0.08, -0.06, -0.12],
    [0.26, 0.2, 0.14, 0.08, -0.05, -0.09],
    [0.36, 0.3, 0.24, 0.18, 0.12, -0.05, -0.1],
    [0.62, 0.56, 0.5, 0.44, 0.38, 0.3, 0.22],
    [0.82, 0.77, 0.72, 0.66, 0.6, 0.54],
    [0.88, 0.84, 0.8],
    # W1898 - W1900
    [0.27, 0.21, 0.15, 0.09, -0.07, -0.13, -0.2, -0.26],
    [0.24, 0.18, 0.12, 0.06, -0.08, -0.15, -0.22],
    [0.3, 0.24, 0.18, 0.12, 0.06, -0.05, -0.11, -0.18, -0.25],
    [0.26, 0.2, 0.14, 0.08, -0.06, -0.14, -0.21],
    [0.33, 0.27, 0.21, 0.15, 0.09, -0.04, -0.1, -0.16, -0.23],
    [0.28, 0.22, 0.16, 0.1, -0.07, -0.14, -0.22],
    [0.38, 0.32, 0.26, 0.2, 0.14, 0.08, -0.05, -0.12, -0.19, -0.26],
    [0.24, 0.18, 0.12, 0.06, -0.1, -0.18, -0.27, -0.35],
    [0.16, 0.1, 0.04, -0.08, -0.16, -0.24, -0.32, -0.4, -0.46],
    [0.22, 0.16, 0.1, 0.04, -0.14, -0.22, -0.3, -0.38, -0.46],
    [0.24, 0.18, 0.12, 0.06, -0.08, -0.16, -0.24, -0.32, -0.4, -0.49],
    [0.3, 0.24, 0.18, 0.12, 0.06, -0.12, -0.2, -0.28, -0.36],
    [0.29, 0.23, 0.17, 0.11, 0.05, -0.06, -0.14, -0.22],
    [0.32, 0.26, 0.2, 0.14, 0.08, -0.04],
    [0.26, 0.2, 0.14, 0.08, -0.1, -0.18, -0.26],
    [0.32, 0.26, 0.2, 0.14, 0.08, -0.06, -0.12, -0.18],
    [0.28, 0.22, 0.16, 0.1, -0.06, -0.12],
    [0.33, 0.27, 0.21, 0.15, 0.09, -0.04, -0.09],
    [0.32, 0.26, 0.2, 0.14, 0.08, -0.07, -0.13, -0.19],
    [0.26, 0.2, 0.14, 0.08, -0.05, -0.11, -0.17],
    [0.32, 0.26, 0.2, 0.14, 0.08, -0.05, -0.1],
    [0.27, 0.21, 0.15, 0.09, -0.08, -0.15, -0.22],
    [0.18, 0.12, 0.06, -0.06, -0.14, -0.22, -0.3],
    [0.14, 0.08, -0.1, -0.18, -0.26, -0.32],
    [0.16, 0.1, 0.04, -0.08, -0.16, -0.24],
    [0.27, 0.21, 0.15, 0.09, -0.06, -0.12],
    [0.3, 0.24, 0.18, 0.12, 0.06, -0.05, -0.12],
    [0.26, 0.2, 0.14, 0.08, -0.07, -0.14, -0.2],
    [0.28, 0.22, 0.16, 0.1, 0.04, -0.04, -0.1, -0.17],
    [0.32, 0.26, 0.2, 0.14, 0.08, -0.05, -0.12],
    [0.24, 0.18, 0.12, 0.06, -0.06, -0.14, -0.22],
    # W1901 - W1902
    [0.2, 0.14, 0.08, -0.04, -0.1, -0.18],
    [0.16, 0.1, 0.05, -0.08, -0.16, -0.24, -0.3],
    [0.14, 0.08, -0.04, -0.12, -0.2, -0.28, -0.34],
    [0.2, 0.14, 0.08, -0.06, -0.14, -0.22, -0.3],
    [0.24, 0.18, 0.12, 0.06, -0.08, -0.16, -0.24, -0.33],
    [0.22, 0.16, 0.1, -0.06, -0.14, -0.22, -0.3],
    [0.25, 0.19, 0.13, 0.07, -0.04, -0.12, -0.2, -0.26],
    [0.3, 0.24, 0.18, 0.12, 0.06, -0.08, -0.16, -0.24],
    [0.35, 0.29, 0.23, 0.17, 0.11, -0.06, -0.12],
    [0.3, 0.22, 0.14, 0.07, -0.08, -0.16, -0.24],
    [0.18, 0.12, 0.06, -0.1, -0.18, -0.26, -0.32],
    [0.16, 0.1, 0.04, -0.08, -0.16, -0.24, -0.3],
    [0.28, 0.22, 0.16, 0.1, 0.04, -0.06],
    [0.34, 0.28, 0.22, 0.16, 0.1],
    [0.3, 0.24, 0.18, 0.12, 0.06, -0.08],
    [0.32, 0.26, 0.2, 0.14, 0.08, -0.04, -0.1, -0.16],
    [0.28, 0.22, 0.16, 0.1, 0.04, -0.08],
    [0.33, 0.27, 0.21, 0.15, 0.09, -0.06, -0.12],
    [0.28, 0.22, 0.16, 0.1],
    [0.35, 0.29, 0.23, 0.17, 0.11, 0.05],
    [0.33, 0.27, 0.21, 0.15, 0.09, -0.05],
    [0.3, 0.24, 0.18, 0.12, 0.06],
    [0.36, 0.3, 0.24, 0.18, 0.12, -0.08],
    [0.32, 0.26, 0.2, 0.14, 0.08, -0.1, -0.18],
    [0.28, 0.22, 0.16, 0.1, -0.12, -0.2, -0.28, -0.34],
    [0.34, 0.28, 0.22, 0.16, 0.1, -0.14, -0.22, -0.3],
    [0.2, 0.14, 0.08, -0.1, -0.18, -0.26, -0.33],
    [0.14, 0.08, -0.08, -0.16, -0.24, -0.31],
    [0.16, 0.1, -0.06, -0.12, -0.2, -0.28],
    [0.26, 0.2, 0.14, 0.08, -0.08, -0.14],
    [0.4, 0.35, 0.3, 0.25, 0.2],
    [0.5, 0.45, 0.4, 0.35],
]

flag_day = [40.7, 48.3]
flag_err = [0.01, 0.02]
flag_size = [6, 8]

# ---- flatten streaks into points ----
xs, ys = [], []
for days, errs in ((streak_day, streak_err), (streak_day_b, streak_err_b)):
    for d, vals in zip(days, errs):
        for v in vals:
            xs.append(d)
            ys.append(v)

fig = go.Figure()
fig.add_trace(go.Scatter(
    x=xs, y=ys, mode="markers",
    marker=dict(color="#0000FF", size=4, line=dict(width=0)),
    showlegend=False, hoverinfo="skip",
))
fig.add_trace(go.Scatter(
    x=flag_day, y=flag_err, mode="markers",
    marker=dict(color="#FF0000", size=flag_size, line=dict(width=0)),
    showlegend=False, hoverinfo="skip",
))

tick_font = dict(family="Liberation Sans Narrow, DejaVu Sans Condensed, Liberation Sans, Arial",
                 size=11, color="#505050")
title_font = dict(family="Liberation Sans, Arial", size=18, color="black")

# page body has an 8px margin: figure is sized so the plot lands at the reference position
fig.update_layout(
    width=842, height=688,
    margin=dict(l=33, r=0, t=44, b=33),
    paper_bgcolor="white", plot_bgcolor="white",
    xaxis=dict(
        range=[0, 90], tickvals=week_days, ticktext=week_labels,
        ticks="inside", ticklen=5, tickcolor="#707070",
        showline=True, linecolor="#707070", linewidth=1, mirror="ticks",
        showgrid=True, gridcolor="#b0b0b0", griddash="1px,2px", gridwidth=1,
        zeroline=False, tickfont=tick_font, ticklabelstandoff=1,
    ),
    yaxis=dict(
        range=[-3, 3], tickvals=[-3, -2, -1, 0, 1, 2, 3],
        ticks="inside", ticklen=5, tickcolor="#707070",
        showline=True, linecolor="#707070", linewidth=1,
        showgrid=True, gridcolor="#b0b0b0", griddash="1px,2px", gridwidth=1,
        zeroline=False, tickfont=tick_font, ticklabelshift=-3,
    ),
    annotations=[
        dict(text="<b>PRN-32  SVN-70  URA Normalized Range Error 4/1/16 to 6/30/16 (max in footprint)</b>",
             xref="paper", yref="paper", x=0.5, y=1.0, yshift=35, xanchor="center", yanchor="middle",
             showarrow=False, font=title_font),
        dict(text="<b>Using  C/A Nav Data vs. NGA APC Precise Ephemeris</b>",
             xref="paper", yref="paper", x=0.5, y=1.0, yshift=14, xanchor="center", yanchor="middle",
             showarrow=False, font=title_font),
        dict(text="<b>week of 2016</b>", xref="paper", yref="paper", x=0.5, y=0, yshift=-23,
             xanchor="center", yanchor="middle", showarrow=False,
             font=dict(family="Liberation Sans, Arial", size=11, color="black")),
        dict(text="<b>URA Normalized Range Error</b>", xref="paper", yref="paper", x=0, xshift=-24,
             y=0.49, textangle=-90, xanchor="center", yanchor="middle", showarrow=False,
             font=dict(family="Liberation Sans, Arial", size=10, color="black")),
    ],
)

fig.write_html("out.html")
